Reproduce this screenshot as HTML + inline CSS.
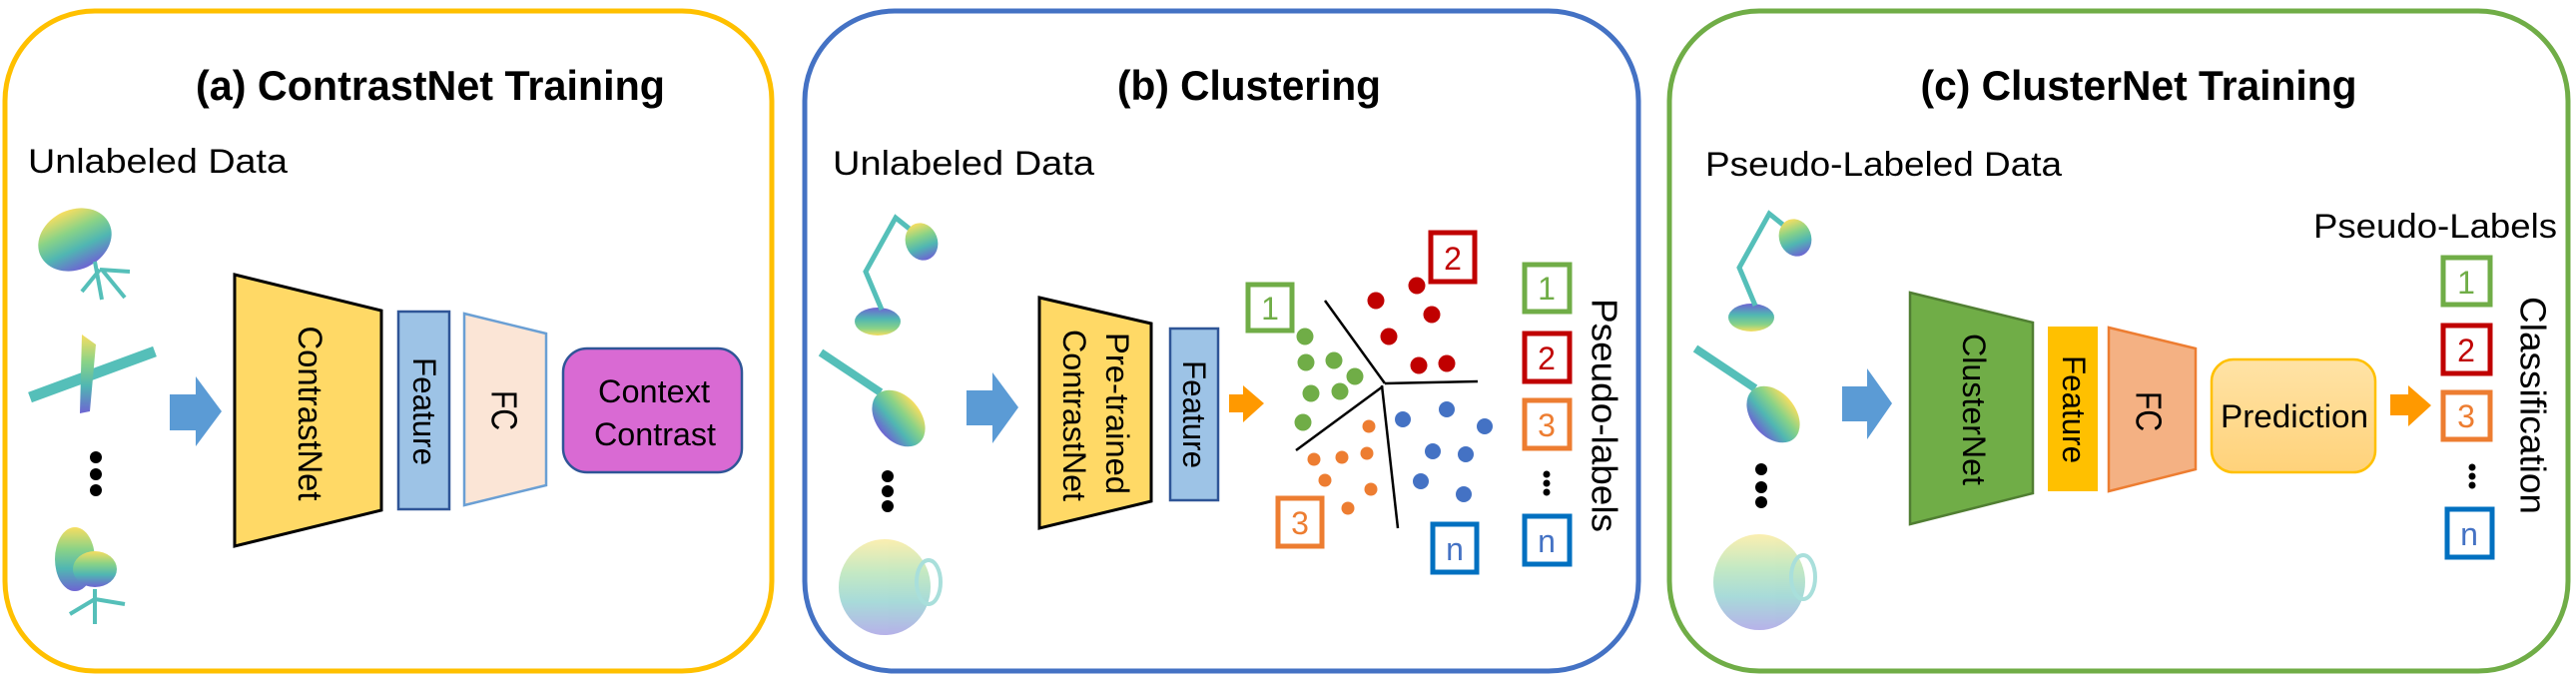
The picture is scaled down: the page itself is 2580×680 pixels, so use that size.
<!DOCTYPE html>
<html><head><meta charset="utf-8"><style>html,body{margin:0;padding:0;background:#fff}svg{display:block}text{font-family:"Liberation Sans",sans-serif}</style></head>
<body>
<svg width="2580" height="680" viewBox="0 0 2580 680" xmlns="http://www.w3.org/2000/svg">
<defs>
<linearGradient id="vir" x1="0" y1="0" x2="0" y2="1">
<stop offset="0" stop-color="#f5d63a"/><stop offset="0.35" stop-color="#6cc86a"/><stop offset="0.65" stop-color="#25a5a0"/><stop offset="1" stop-color="#4a3ec8"/></linearGradient>
<linearGradient id="virr" x1="0" y1="0" x2="0" y2="1">
<stop offset="0" stop-color="#4a3ec8"/><stop offset="0.4" stop-color="#25a5a0"/><stop offset="0.75" stop-color="#6cc86a"/><stop offset="1" stop-color="#f5d63a"/></linearGradient>
<linearGradient id="pred" x1="0" y1="0" x2="0" y2="1"><stop offset="0" stop-color="#ffe3a6"/><stop offset="1" stop-color="#ffd27a"/></linearGradient>
<g id="lamp" opacity="0.8">
<ellipse cx="24" cy="112" rx="23" ry="14" fill="url(#virr)"/>
<polyline points="28,100 12,62 42,8 62,24" fill="none" stroke="#2bb0a8" stroke-width="5"/>
<ellipse cx="68" cy="32" rx="16" ry="19" fill="url(#vir)" transform="rotate(-20 68 32)"/>
</g>
<g id="guitar" opacity="0.8">
<line x1="2" y1="2" x2="62" y2="42" stroke="#2bb0a8" stroke-width="8"/>
<ellipse cx="80" cy="68" rx="32" ry="22" fill="url(#vir)" transform="rotate(50 80 68)"/>
</g>
<g id="mug" opacity="0.4">
<ellipse cx="46" cy="50" rx="46" ry="48" fill="url(#vir)"/>
<ellipse cx="90" cy="45" rx="12" ry="22" fill="none" stroke="#2bb0a8" stroke-width="4"/>
</g>
</defs>

<rect x="5" y="11" width="768" height="661" rx="90" fill="none" stroke="#ffc000" stroke-width="5"/>
<rect x="806" y="11" width="835" height="661" rx="90" fill="none" stroke="#4472c4" stroke-width="5"/>
<rect x="1672" y="11" width="900" height="661" rx="90" fill="none" stroke="#70ad47" stroke-width="5"/>

<text x="431" y="100" font-size="42" font-weight="bold" text-anchor="middle" textLength="470" lengthAdjust="spacingAndGlyphs">(a) ContrastNet Training</text>
<text x="1251" y="100" font-size="42" font-weight="bold" text-anchor="middle" textLength="264" lengthAdjust="spacingAndGlyphs">(b) Clustering</text>
<text x="2142" y="100" font-size="42" font-weight="bold" text-anchor="middle" textLength="437" lengthAdjust="spacingAndGlyphs">(c) ClusterNet Training</text>

<text x="28" y="173" font-size="34" textLength="260" lengthAdjust="spacingAndGlyphs">Unlabeled Data</text>
<text x="834" y="175" font-size="34" textLength="262" lengthAdjust="spacingAndGlyphs">Unlabeled Data</text>
<text x="1708" y="176" font-size="34" textLength="357" lengthAdjust="spacingAndGlyphs">Pseudo-Labeled Data</text>

<g opacity="0.8">
<ellipse cx="75" cy="240" rx="38" ry="30" fill="url(#vir)" transform="rotate(-25 75 240)"/>
<g stroke="#2bb0a8" stroke-width="4"><line x1="95" y1="262" x2="102" y2="300"/><line x1="100" y1="270" x2="130" y2="272"/><line x1="100" y1="270" x2="82" y2="292"/><line x1="102" y1="270" x2="125" y2="298"/></g>
<line x1="30" y1="398" x2="155" y2="352" stroke="#2bb0a8" stroke-width="11"/>
<path d="M82 335 L96 345 L90 412 L80 414 Z" fill="url(#vir)"/>
<ellipse cx="75" cy="560" rx="20" ry="32" fill="url(#vir)"/>
<ellipse cx="95" cy="570" rx="22" ry="18" fill="url(#vir)"/>
<g stroke="#2bb0a8" stroke-width="4"><line x1="95" y1="590" x2="95" y2="625"/><line x1="95" y1="600" x2="125" y2="605"/><line x1="95" y1="600" x2="70" y2="615"/></g>
</g>
<circle cx="96" cy="458" r="6" fill="#000"/><circle cx="96" cy="475" r="6" fill="#000"/><circle cx="96" cy="491" r="6" fill="#000"/>

<use href="#lamp" x="855" y="210"/>
<use href="#guitar" x="820" y="351"/>
<use href="#mug" x="840" y="538"/>
<circle cx="889" cy="477" r="6" fill="#000"/><circle cx="889" cy="492" r="6" fill="#000"/><circle cx="889" cy="507" r="6" fill="#000"/>

<use href="#lamp" x="1730" y="206"/>
<use href="#guitar" x="1696" y="347"/>
<use href="#mug" x="1716" y="533"/>
<circle cx="1764" cy="470" r="6" fill="#000"/><circle cx="1764" cy="488" r="6" fill="#000"/><circle cx="1764" cy="503" r="6" fill="#000"/>

<path d="M170 395 H196 V377 L222 412 L196 447 V431 H170 Z" fill="#5b9bd5"/>
<path d="M968 391 H994 V373 L1020 408 L994 444 V426 H968 Z" fill="#5b9bd5"/>
<path d="M1845 387 H1870 V369 L1895 404 L1870 440 V422 H1845 Z" fill="#5b9bd5"/>

<polygon points="235,275 382,311 382,511 235,547" fill="#ffd966" stroke="#000" stroke-width="3"/>
<text transform="translate(310,414) rotate(90)" font-size="34" text-anchor="middle" dominant-baseline="central" textLength="175" lengthAdjust="spacingAndGlyphs">ContrastNet</text>
<rect x="399" y="312" width="51" height="198" fill="#9dc3e6" stroke="#2f5597" stroke-width="2.5"/>
<text transform="translate(425,412) rotate(90)" font-size="32" text-anchor="middle" dominant-baseline="central" textLength="108" lengthAdjust="spacingAndGlyphs">Feature</text>
<polygon points="465,314 547,334 547,486 465,506" fill="#fbe5d6" stroke="#6a9fd4" stroke-width="2.5"/>
<text transform="translate(505,411) rotate(90)" font-size="36" text-anchor="middle" dominant-baseline="central" textLength="40" lengthAdjust="spacingAndGlyphs">FC</text>
<rect x="564" y="349" width="179" height="124" rx="24" fill="#d96ad3" stroke="#2f5597" stroke-width="2.5"/>
<text x="655" y="403" font-size="32" text-anchor="middle" textLength="112" lengthAdjust="spacingAndGlyphs">Context</text>
<text x="656" y="446" font-size="32" text-anchor="middle" textLength="122" lengthAdjust="spacingAndGlyphs">Contrast</text>

<polygon points="1041,298 1153,324 1153,502 1041,529" fill="#ffd966" stroke="#000" stroke-width="3"/>
<text transform="translate(1119,414) rotate(90)" font-size="32" text-anchor="middle" dominant-baseline="central" textLength="162" lengthAdjust="spacingAndGlyphs">Pre-trained</text>
<text transform="translate(1076,416) rotate(90)" font-size="32" text-anchor="middle" dominant-baseline="central" textLength="172" lengthAdjust="spacingAndGlyphs">ContrastNet</text>
<rect x="1172" y="329" width="48" height="172" fill="#9dc3e6" stroke="#2f5597" stroke-width="2.5"/>
<text transform="translate(1196,415) rotate(90)" font-size="32" text-anchor="middle" dominant-baseline="central" textLength="108" lengthAdjust="spacingAndGlyphs">Feature</text>
<path d="M1231 395 H1245 V386 L1266 404 L1245 423 V413 H1231 Z" fill="#ff9900"/>

<g stroke="#000" stroke-width="2.5" fill="none">
<line x1="1387" y1="384" x2="1327" y2="301"/>
<line x1="1387" y1="384" x2="1480" y2="382"/>
<line x1="1385" y1="387" x2="1298" y2="451"/>
<line x1="1384" y1="386" x2="1400" y2="529"/>
</g>
<g fill="#70ad47"><circle cx="1307" cy="337" r="8.5"/><circle cx="1308" cy="363" r="8.5"/><circle cx="1336" cy="361" r="8.5"/><circle cx="1357" cy="377" r="8.5"/><circle cx="1313" cy="394" r="8.5"/><circle cx="1342" cy="392" r="8.5"/><circle cx="1305" cy="423" r="8.5"/></g>
<g fill="#c00000"><circle cx="1419" cy="286" r="8.5"/><circle cx="1378" cy="301" r="8.5"/><circle cx="1434" cy="315" r="8.5"/><circle cx="1391" cy="337" r="8.5"/><circle cx="1421" cy="366" r="8.5"/><circle cx="1449" cy="364" r="8.5"/></g>
<g fill="#4472c4"><circle cx="1405" cy="420" r="8"/><circle cx="1449" cy="410" r="8"/><circle cx="1487" cy="427" r="8"/><circle cx="1435" cy="452" r="8"/><circle cx="1468" cy="455" r="8"/><circle cx="1423" cy="482" r="8"/><circle cx="1466" cy="495" r="8"/></g>
<g fill="#ed7d31"><circle cx="1371" cy="427" r="6.5"/><circle cx="1316" cy="460" r="6.5"/><circle cx="1344" cy="458" r="6.5"/><circle cx="1369" cy="454" r="6.5"/><circle cx="1327" cy="481" r="6.5"/><circle cx="1373" cy="490" r="6.5"/><circle cx="1350" cy="509" r="6.5"/></g>

<g fill="#fff" stroke-width="5">
<rect x="1250" y="285" width="44" height="46" stroke="#70ad47"/>
<rect x="1433" y="233" width="44" height="49" stroke="#c00000"/>
<rect x="1280" y="499" width="44" height="48" stroke="#ed7d31"/>
<rect x="1435" y="525" width="44" height="48" stroke="#0070c0"/>
<rect x="1527" y="265" width="45" height="47" stroke="#70ad47"/>
<rect x="1527" y="334" width="45" height="48" stroke="#c00000"/>
<rect x="1527" y="401" width="45" height="48" stroke="#ed7d31"/>
<rect x="1527" y="517" width="45" height="48" stroke="#0070c0"/>
</g>
<g font-size="32" text-anchor="middle">
<text x="1272" y="320" fill="#70ad47">1</text>
<text x="1455" y="270" fill="#c00000">2</text>
<text x="1302" y="535" fill="#ed7d31">3</text>
<text x="1457" y="561" fill="#4472c4">n</text>
<text x="1549" y="300" fill="#70ad47">1</text>
<text x="1549" y="370" fill="#c00000">2</text>
<text x="1549" y="437" fill="#ed7d31">3</text>
<text x="1549" y="553" fill="#4472c4">n</text>
</g>
<circle cx="1549" cy="475" r="3.5" fill="#000"/><circle cx="1549" cy="484" r="3.5" fill="#000"/><circle cx="1549" cy="493" r="3.5" fill="#000"/>
<text transform="translate(1607,416) rotate(90)" font-size="36" text-anchor="middle" dominant-baseline="central" textLength="234" lengthAdjust="spacingAndGlyphs">Pseudo-labels</text>

<polygon points="1913,293 2036,323 2036,494 1913,525" fill="#70ad47" stroke="#507e32" stroke-width="2.5"/>
<text transform="translate(1977,410) rotate(90)" font-size="32" text-anchor="middle" dominant-baseline="central" textLength="152" lengthAdjust="spacingAndGlyphs">ClusterNet</text>
<rect x="2051" y="327" width="50" height="165" fill="#ffc000"/>
<text transform="translate(2077,410) rotate(90)" font-size="32" text-anchor="middle" dominant-baseline="central" textLength="108" lengthAdjust="spacingAndGlyphs">Feature</text>
<polygon points="2112,328 2199,349 2199,470 2112,492" fill="#f4b183" stroke="#ed7d31" stroke-width="2.5"/>
<text transform="translate(2152,412) rotate(90)" font-size="36" text-anchor="middle" dominant-baseline="central" textLength="40" lengthAdjust="spacingAndGlyphs">FC</text>
<rect x="2215" y="360" width="164" height="113" rx="22" fill="url(#pred)" stroke="#ffc000" stroke-width="2.5"/>
<text x="2298" y="428" font-size="32" text-anchor="middle" textLength="148" lengthAdjust="spacingAndGlyphs">Prediction</text>
<path d="M2394 395 H2412 V386 L2435 406 L2412 427 V416 H2394 Z" fill="#ff9900"/>

<text x="2317" y="238" font-size="34" textLength="244" lengthAdjust="spacingAndGlyphs">Pseudo-Labels</text>
<g fill="#fff" stroke-width="5">
<rect x="2447" y="258" width="47" height="47" stroke="#70ad47"/>
<rect x="2447" y="326" width="47" height="48" stroke="#c00000"/>
<rect x="2447" y="393" width="47" height="47" stroke="#ed7d31"/>
<rect x="2451" y="510" width="45" height="48" stroke="#0070c0"/>
</g>
<g font-size="32" text-anchor="middle">
<text x="2470" y="294" fill="#70ad47">1</text>
<text x="2470" y="362" fill="#c00000">2</text>
<text x="2470" y="428" fill="#ed7d31">3</text>
<text x="2473" y="546" fill="#4472c4">n</text>
</g>
<circle cx="2476" cy="468" r="3.5" fill="#000"/><circle cx="2476" cy="477" r="3.5" fill="#000"/><circle cx="2476" cy="486" r="3.5" fill="#000"/>
<text transform="translate(2537,406) rotate(90)" font-size="36" text-anchor="middle" dominant-baseline="central" textLength="218" lengthAdjust="spacingAndGlyphs">Classification</text>
</svg>
</body></html>
